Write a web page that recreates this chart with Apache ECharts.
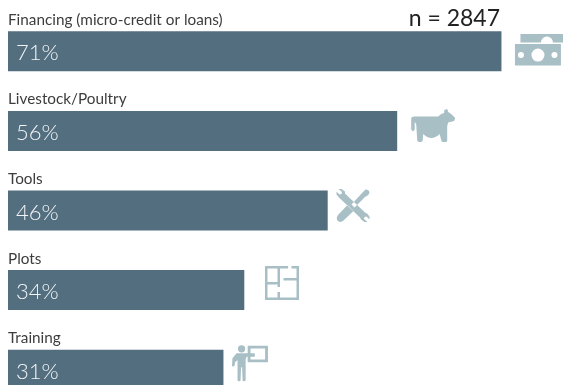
<!DOCTYPE html>
<html>
<head>
<meta charset="utf-8">
<style>html,body{margin:0;padding:0;background:#fff}#chart{width:563px;height:385px}</style>
<script src="https://cdn.jsdelivr.net/npm/echarts@6/dist/echarts.min.js"></script>
</head>
<body>
<div id="chart"></div>
<script>
const categories = ['Financing (micro-credit or loans)', 'Livestock/Poultry', 'Tools', 'Plots', 'Training'];
const shares = [71, 56, 46, 34, 31];
const sampleSize = 2847;

// Pictograms, one per category, in local pixel units (holes wind the opposite way).
const moneyIcon = 'path://M5.5,0.5 L50,0.5 L50,13 L48,13 L48,9 L38,9 A6,6 0 0 0 26,9 L5.5,9 Z' +
  'M0,10.5 L46,10.5 L46,32 L0,32 Z' +
  'M23,15 A6.5,6.5 0 0 0 23,28 A6.5,6.5 0 0 0 23,15 Z' +
  'M6,18.5 A3,3 0 0 0 6,24.5 A3,3 0 0 0 6,18.5 Z' +
  'M39.5,18.5 A3,3 0 0 0 39.5,24.5 A3,3 0 0 0 39.5,18.5 Z';
const cowIcon = 'path://M3,7.5 L27,7.5 L30,5 L33,4 L33,1 L36,0 L37,3 L40,5 L44,9 L43,12 L37,13.5 L36,17 ' +
  'L36,31.5 Q36,33 34,33 L32,33 Q30,33 30,31 L28.5,25 Q20,33 12,25 L11.5,31 Q11.5,33 9.5,33 L8,33 Q6,33 6,31 ' +
  'L5,15 L3.5,13 L3.5,20 Q3.5,22 1.7,22 Q0,22 0,20 L0,10 Q0,7.5 3,7.5 Z';
const toolsIcon = 'path://M8.5,4.5 L8.5,2.5 L5,0 L2,0 L5.5,3 L5,5 L3,5.5 L0,2.5 L0,5.5 L2.5,8.5 L3.5,9.5 ' +
  'L23.5,28.5 L24.5,30.5 L28,33 L31,33 L27.5,30 L28,28 L30,27.5 L33,30.5 L33,27.5 L30.5,24.5 L28.5,23.5 Z' +
  'M26,3.5 L29,0.5 Q32,0 33,3 Q33,5 31,6.5 L28.5,8 L18,18.5 L15,15.5 Z' +
  'M11,16 L17,22 L7,31.5 Q4,34 1.5,32 Q-1,30 1.5,26 Z';
const planIcon = 'path://M0,0 L2.5,0 L2.5,34 L0,34 Z M0,0 L23,0 L23,2.5 L0,2.5 Z M26.5,0 L34,0 L34,2.5 L26.5,2.5 Z' +
  'M31.5,0 L34,0 L34,34 L31.5,34 Z M0,31.5 L34,31.5 L34,34 L0,34 Z' +
  'M12.5,0 L15,0 L15,21 L12.5,21 Z M12.5,26 L15,26 L15,34 L12.5,34 Z' +
  'M0,16 L15,16 L15,18.5 L0,18.5 Z M18.5,12 L34,12 L34,14.5 L18.5,14.5 Z';
const trainerIcon = 'path://M16,0.5 L36,0.5 L36,17 L16,17 Z M18.8,3.3 L18.8,14.2 L33.2,14.2 L33.2,3.3 Z' +
  'M10,0 A3.6,3.6 0 0 0 10,7.2 A3.6,3.6 0 0 0 10,0 Z' +
  'M5,8 L23,8 L23,11.5 L15,11.5 L14,14 L14,35 Q14,36 12.5,36 Q11,36 11,35 L10.5,22 L9.5,22 L9,35 Q9,36 7.5,36 ' +
  'Q6,36 6,35 L6,15 L3.5,17 L3,21 L0.5,21 L1,13 Z';

const icons = [moneyIcon, cowIcon, toolsIcon, planIcon, trainerIcon];
const iconSizes = [[50, 31.5], [44, 33], [33, 33], [34, 34], [36, 36]];
const iconOffsets = [[38.5, -1.5], [36, -5.5], [25.3, -5], [37.7, -7], [26.5, -6.5]];

const textFont = 'Lato';
const chart = echarts.init(document.getElementById('chart'), null, { renderer: 'canvas' });

chart.setOption({
  animation: false,
  backgroundColor: '#ffffff',
  title: {
    text: 'n = ' + sampleSize,
    right: 58,
    top: 2,
    textStyle: { fontFamily: textFont, fontSize: 23, fontWeight: 400, color: '#222222' }
  },
  grid: { left: 8, top: 11.5, width: 556, height: 398, outerBoundsMode: 'none' },
  xAxis: { type: 'value', min: 0, max: 80, show: false },
  yAxis: {
    type: 'category',
    inverse: true,
    data: categories,
    axisLine: { show: false },
    axisTick: { show: false },
    axisLabel: {
      inside: true,
      margin: 0,
      align: 'left',
      verticalAlign: 'bottom',
      padding: [0, 0, 24, 0],
      fontFamily: textFont,
      fontSize: 15.3,
      color: '#3d3d3d'
    }
  },
  series: [
    {
      type: 'bar',
      data: shares,
      barWidth: 40,
      itemStyle: { color: '#536e7f' },
      label: {
        show: true,
        position: 'insideLeft',
        distance: 8,
        offset: [0, 2],
        formatter: p => p.value + '%',
        fontFamily: textFont,
        fontWeight: 300,
        fontSize: 22,
        color: '#f2f5f6'
      }
    },
    {
      type: 'scatter',
      clip: false,
      silent: true,
      data: shares.map((v, i) => ({
        value: [v, categories[i]],
        symbol: icons[i],
        symbolSize: iconSizes[i],
        symbolOffset: iconOffsets[i]
      })),
      itemStyle: { color: '#a9bfc6', opacity: 1 }
    }
  ]
});
</script>
</body>
</html>
